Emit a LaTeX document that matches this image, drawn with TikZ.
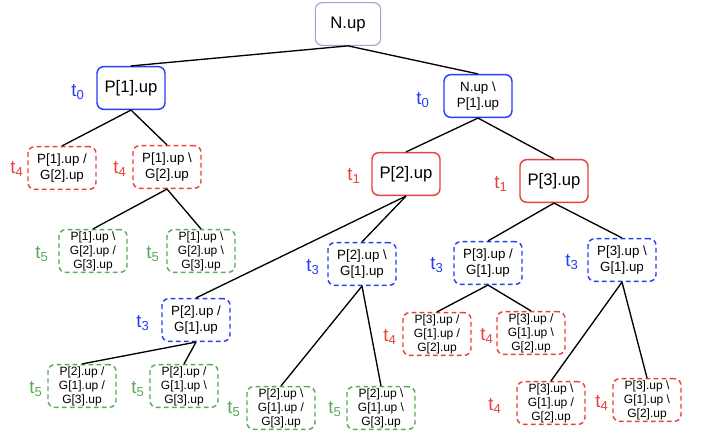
\documentclass[tikz,border=0pt]{standalone}
\usepackage{fontspec}
\setmainfont{Liberation Sans}
\usetikzlibrary{arrows.meta}
\definecolor{tblue}{RGB}{38,62,245}
\definecolor{tred}{RGB}{232,66,58}
\definecolor{tgreen}{RGB}{88,172,88}
\definecolor{rootline}{RGB}{170,160,205}
\tikzset{
  box/.style={draw, rounded corners=5pt, line width=1.1pt, minimum width=51pt,
    minimum height=32pt, align=center, inner sep=1pt,
    font=\fontsize{10}{12}\selectfont},
  bigbox/.style={box, font=\fontsize{12.5}{14}\selectfont},
  smallbox/.style={box, font=\fontsize{9}{10.5}\selectfont},
  dashbox/.style={dash pattern=on 3.6pt off 2.4pt},
  rootbox/.style={bigbox, draw=rootline, line width=0.8pt, minimum width=49pt},
  blue solid/.style={draw=tblue},
  red solid/.style={draw=tred},
  blue dash/.style={draw=tblue, dashbox},
  red dash/.style={draw=tred, dashbox},
  green dash/.style={draw=tgreen, dashbox},
  tlab/.style={inner sep=0pt, font=\fontsize{14}{16}\selectfont},
  edge/.style={line width=1pt}
}
\newcommand{\bs}{\textbackslash}

\begin{document}
\begin{tikzpicture}[x=0.75pt,y=-0.75pt]
\useasboundingbox (0,0) rectangle (702,438);
% tree nodes
\node[rootbox] (root) at (348,24) {N.up};
\node[bigbox,blue solid] (p1) at (131,88) {P[1].up};
\node[box,blue solid] (np1) at (478,96) {N.up \bs\\P[1].up};
\node[box,red dash] (p1g2a) at (62,168) {P[1].up /\\G[2].up};
\node[box,red dash] (p1g2b) at (167,167) {P[1].up \bs\\G[2].up};
\node[smallbox,green dash] (p1g3a) at (93,251) {P[1].up \bs\\G[2].up /\\G[3].up};
\node[smallbox,green dash] (p1g3b) at (201,251) {P[1].up \bs\\G[2].up \bs\\G[3].up};
\node[bigbox,red solid] (p2) at (406,174) {P[2].up};
\node[bigbox,red solid] (p3) at (554,181) {P[3].up};
\node[box,blue dash] (p2g1a) at (196,320) {P[2].up /\\G[1].up};
\node[box,blue dash] (p2g1b) at (362,264) {P[2].up \bs\\G[1].up};
\node[smallbox,green dash] (p2g3a) at (82,386) {P[2].up /\\G[1].up /\\G[3].up};
\node[smallbox,green dash] (p2g3b) at (184,386) {P[2].up /\\G[1].up \bs\\G[3].up};
\node[smallbox,green dash] (p2g3c) at (281,408) {P[2].up \bs\\G[1].up /\\G[3].up};
\node[smallbox,green dash] (p2g3d) at (381,408) {P[2].up \bs\\G[1].up \bs\\G[3].up};
\node[box,blue dash] (p3g1a) at (488,263) {P[3].up /\\G[1].up};
\node[box,blue dash] (p3g1b) at (622,260) {P[3].up \bs\\G[1].up};
\node[smallbox,red dash] (p3g2a) at (437,334) {P[3].up /\\G[1].up /\\G[2].up};
\node[smallbox,red dash] (p3g2b) at (531,333) {P[3].up /\\G[1].up \bs\\G[2].up};
\node[smallbox,red dash] (p3g2c) at (551,403) {P[3].up \bs\\G[1].up /\\G[2].up};
\node[smallbox,red dash] (p3g2d) at (647,400) {P[3].up \bs\\G[1].up \bs\\G[2].up};
% time labels
\node[tlab,text=tblue] (tp1) at (78,92) {t\textsubscript{0}};
\node[tlab,text=tblue] (tnp1) at (423,100) {t\textsubscript{0}};
\node[tlab,text=tred] (tp2) at (354,176) {t\textsubscript{1}};
\node[tlab,text=tred] (tp3) at (501,184) {t\textsubscript{1}};
\node[tlab,text=tblue] (tp2g1a) at (143,323) {t\textsubscript{3}};
\node[tlab,text=tblue] (tp2g1b) at (313,267) {t\textsubscript{3}};
\node[tlab,text=tblue] (tp3g1a) at (437,265) {t\textsubscript{3}};
\node[tlab,text=tblue] (tp3g1b) at (572,262) {t\textsubscript{3}};
\node[tlab,text=tred] (tp1g2a) at (17,169) {t\textsubscript{4}};
\node[tlab,text=tred] (tp1g2b) at (120,169) {t\textsubscript{4}};
\node[tlab,text=tred] (tp3g2a) at (390,337) {t\textsubscript{4}};
\node[tlab,text=tred] (tp3g2b) at (487,336) {t\textsubscript{4}};
\node[tlab,text=tred] (tp3g2c) at (495,406) {t\textsubscript{4}};
\node[tlab,text=tred] (tp3g2d) at (602,403) {t\textsubscript{4}};
\node[tlab,text=tgreen] (tp1g3a) at (42,254) {t\textsubscript{5}};
\node[tlab,text=tgreen] (tp1g3b) at (153,254) {t\textsubscript{5}};
\node[tlab,text=tgreen] (tp2g3a) at (36,389) {t\textsubscript{5}};
\node[tlab,text=tgreen] (tp2g3b) at (138,389) {t\textsubscript{5}};
\node[tlab,text=tgreen] (tp2g3c) at (234,409) {t\textsubscript{5}};
\node[tlab,text=tgreen] (tp2g3d) at (335,409) {t\textsubscript{5}};
% edges
\draw[edge] (root.south) -- (p1.north);
\draw[edge] (root.south) -- (np1.north);
\draw[edge] (p1.south) -- (p1g2a.north);
\draw[edge] (p1.south) -- (p1g2b.north);
\draw[edge] (p1g2b.south) -- (p1g3a.north);
\draw[edge] (p1g2b.south) -- (p1g3b.north);
\draw[edge] (np1.south) -- (p2.north);
\draw[edge] (np1.south) -- (p3.north);
\draw[edge] (p2.south) -- (p2g1a.north);
\draw[edge] (p2.south) -- (p2g1b.north);
\draw[edge] (p2g1a.south) -- (p2g3a.north);
\draw[edge] (p2g1a.south) -- (p2g3b.north);
\draw[edge] (p2g1b.south) -- (p2g3c.north);
\draw[edge] (p2g1b.south) -- (p2g3d.north);
\draw[edge] (p3.south) -- (p3g1a.north);
\draw[edge] (p3.south) -- (p3g1b.north);
\draw[edge] (p3g1a.south) -- (p3g2a.north);
\draw[edge] (p3g1a.south) -- (p3g2b.north);
\draw[edge] (p3g1b.south) -- (p3g2c.north);
\draw[edge] (p3g1b.south) -- (p3g2d.north);
\end{tikzpicture}
\end{document}
